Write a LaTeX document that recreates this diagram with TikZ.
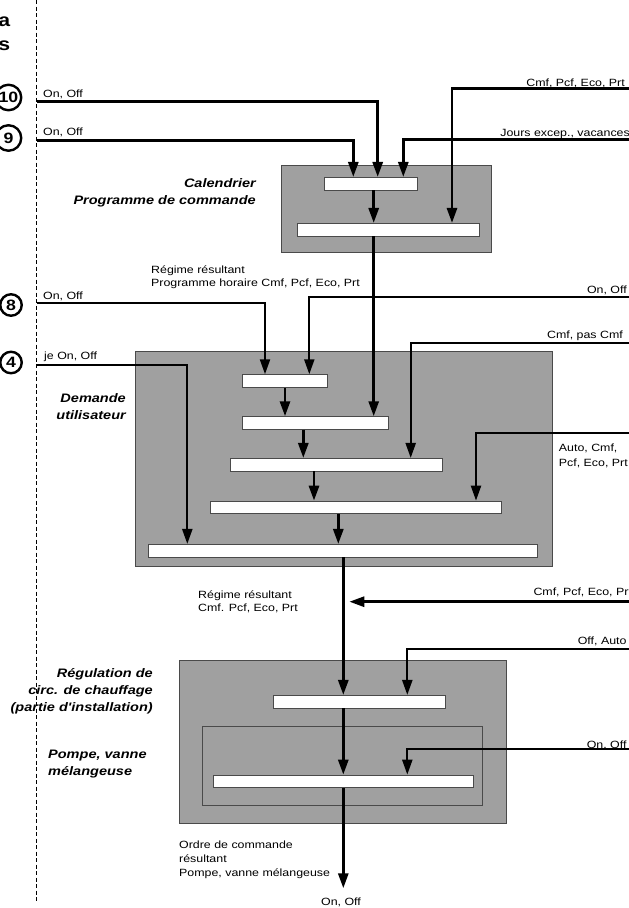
\documentclass[tikz,border=0pt]{standalone}
\usepackage{fontspec}
\setmainfont{Liberation Sans}[FakeStretch=1.18, Ligatures=TeXOff]
\usepackage{xcolor}
\usepackage{tikz}
\usetikzlibrary{arrows.meta,positioning}
\definecolor{boxgray}{HTML}{A0A0A0}
\definecolor{edgegray}{HTML}{4A4A4A}

\tikzset{
  graybox/.style={draw=edgegray, fill=boxgray, line width=0.9pt, inner sep=0pt},
  bar/.style={draw=edgegray, fill=white, line width=0.8pt, inner sep=0pt, minimum height=12.7pt},
  flow/.style={line width=2.8pt, -{Triangle[length=15pt,width=10pt]}},
  feed/.style={line width=2.2pt, -{Triangle[length=15pt,width=10pt]}},
  numcirc/.style={circle, draw, line width=2.4pt, inner sep=0pt, font=\fontsize{15}{15}\selectfont\bfseries},
  lbl/.style={inner sep=0pt, font=\fontsize{10.5}{13}\selectfont},
  title/.style={inner sep=0pt, font=\fontsize{12.3}{17}\selectfont\bfseries\itshape},
}

\begin{document}
\begin{tikzpicture}[x=1pt,y=-1pt]
\useasboundingbox (0,0) rectangle (629,908);
% Separator
\draw[line width=0.8pt, dash pattern=on 4pt off 2.5pt] (36.5,0) -- (36.5,902);
% Cut-off headings
\node[anchor=base east, inner sep=0pt, font=\fontsize{18}{18}\selectfont\bfseries] (heada) at (10.5,26) {a};
\node[anchor=base east, inner sep=0pt, font=\fontsize{18}{18}\selectfont\bfseries] (heads) at (10.5,50.5) {s};
% Numbered inputs
\node[numcirc, minimum size=25.5pt] (n10) at (8.5,97.5) {10};
\node[numcirc, minimum size=25.5pt] (n9) at (8.5,138) {9};
\node[numcirc, minimum size=21.5pt] (n8) at (11,305) {8};
\node[numcirc, minimum size=21.5pt] (n4) at (11,362.5) {4};

% Calendrier
\node[graybox, minimum width=210.7pt, minimum height=87.4pt] (calbox) at (386.3,209) {};
\node[bar, minimum width=92.7pt] (cal1) at (370.7,183.7) {};
\node[bar, minimum width=182pt] (cal2) at (388.7,229.7) {};
\node[title, anchor=base east, align=right] (caltitle) at (256,204.5) {Calendrier\\Programme de commande};

% Demande utilisateur
\node[graybox, minimum width=417.3pt, minimum height=215.7pt] (dembox) at (343.7,458.9) {};
\node[bar, minimum width=84.6pt] (dem1) at (285,381) {};
\node[bar, minimum width=146pt] (dem2) at (315.3,423) {};
\node[bar, minimum width=212.3pt] (dem3) at (336.2,464.7) {};
\node[bar, minimum width=290.3pt] (dem4) at (355.9,507.4) {};
\node[bar, minimum width=389pt] (dem5) at (343.3,550.7) {};
\node[title, anchor=base east, align=right] (demtitle) at (126,419.3) {Demande\\utilisateur};

% Regulation circuit de chauffage
\node[graybox, minimum width=327pt, minimum height=163.3pt] (regbox) at (342.5,741.7) {};
\node[bar, minimum width=172.4pt] (reg1) at (359.5,701.7) {};
\node[draw=edgegray, line width=0.9pt, inner sep=0pt, minimum width=279.6pt, minimum height=78.3pt] (pumpbox) at (342.5,765.9) {};
\node[bar, minimum width=260pt] (reg2) at (343.3,781.4) {};
\node[title, anchor=base east, align=right] (regtitle) at (153,711) {R\'egulation de\\circ. de chauffage\\(partie d'installation)};
\node[title, anchor=base west, align=left] (pumptitle) at (48,775) {Pompe, vanne\\m\'elangeuse};

% Feed points
\coordinate (s10) at (36.5,101.7);
\coordinate (s9) at (36.5,140.5);
\coordinate (s8) at (36.5,303.3);
\coordinate (s4) at (36.5,365.3);
\coordinate (e1) at (629,88.3);
\coordinate (e2) at (629,139.3);
\coordinate (e3) at (629,296.7);
\coordinate (e4) at (629,342.7);
\coordinate (e5) at (629,432.7);
\coordinate (e6) at (629,601.7);
\coordinate (e7) at (629,649.3);
\coordinate (e8) at (629,749.3);
\coordinate (tap) at (349.3,601.7);
\coordinate (outend) at (343.3,888.3);

% Connectors into Calendrier
\draw[flow] (s10) -| ([xshift=7pt]cal1.north);
\draw[flow] (s9) -| ([xshift=-17.4pt]cal1.north);
\draw[flow] (e2) -| ([xshift=32.6pt]cal1.north);
\draw[flow] (e1) -| ([xshift=63.3pt]cal2.north);
\draw[flow] ([xshift=3pt]cal1.south) -- ([xshift=3pt]cal1.south |- cal2.north);
\draw[flow] ([xshift=-15pt]cal2.south) -- ([xshift=-15pt]cal2.south |- dem2.north);

% Connectors into Demande utilisateur
\draw[feed] (s8) -| ([xshift=-20pt]dem1.north);
\draw[feed] (e3) -| ([xshift=24.3pt]dem1.north);
\draw[feed] (e4) -| ([xshift=74.5pt]dem3.north);
\draw[feed] (e5) -| ([xshift=120.1pt]dem4.north);
\draw[feed] (s4) -| ([xshift=-156pt]dem5.north);
\draw[flow] (dem1.south) -- (dem1.south |- dem2.north);
\draw[flow] ([xshift=-12pt]dem2.south) -- ([xshift=-12pt]dem2.south |- dem3.north);
\draw[flow] ([xshift=-22.2pt]dem3.south) -- ([xshift=-22.2pt]dem3.south |- dem4.north);
\draw[flow] ([xshift=-17.6pt]dem4.south) -- ([xshift=-17.6pt]dem4.south |- dem5.north);

% Connectors into Regulation
\draw[flow] (dem5.south) -- (dem5.south |- reg1.north);
\draw[flow] (e6) -- (tap);
\draw[feed] (e7) -| ([xshift=47.8pt]reg1.north);
\draw[flow] ([xshift=-16.2pt]reg1.south) -- ([xshift=-16.2pt]reg1.south |- reg2.north);
\draw[feed] (e8) -| ([xshift=64pt]reg2.north);
\draw[flow] (reg2.south) -- (outend);

% Labels
\node[lbl, anchor=base west] (l10) at (43,97.5) {On, Off};
\node[lbl, anchor=base west] (l9) at (43,135.5) {On, Off};
\node[lbl, anchor=base east] (lcmf) at (625,86) {Cmf, Pcf, Eco, Prt};
\node[lbl, anchor=base east] (ljours) at (630,136) {Jours excep., vacances};
\node[lbl, anchor=base west, align=left] (lres1) at (151,286) {R\'egime r\'esultant\\Programme horaire Cmf, Pcf, Eco, Prt};
\node[lbl, anchor=base west] (l8) at (43,299.3) {On, Off};
\node[lbl, anchor=base east] (lon1) at (627,293.3) {On, Off};
\node[lbl, anchor=base east] (lpas) at (623,338.3) {Cmf, pas Cmf};
\node[lbl, anchor=base west] (l4) at (44,359) {je On, Off};
\node[lbl, anchor=base west, align=left, font=\fontsize{10.5}{15}\selectfont] (lauto) at (558.7,466.7) {Auto, Cmf,\\Pcf, Eco, Prt};
\node[lbl, anchor=base west, align=left] (lres2) at (198,611) {R\'egime r\'esultant\\Cmf. Pcf, Eco, Prt};
\node[lbl, anchor=base west] (lpr) at (533.3,595) {Cmf, Pcf, Eco, Prt};
\node[lbl, anchor=base east] (lauto2) at (626.7,644) {Off, Auto};
\node[lbl, anchor=base east] (lon2) at (626.7,748) {On, Off};
\node[lbl, anchor=base west, align=left, font=\fontsize{10.5}{14.2}\selectfont] (lordre) at (179,876.7) {Ordre de commande\\r\'esultant\\Pompe, vanne m\'elangeuse};
\node[lbl, anchor=base] (lout) at (341,905) {On, Off};
\end{tikzpicture}
\end{document}
